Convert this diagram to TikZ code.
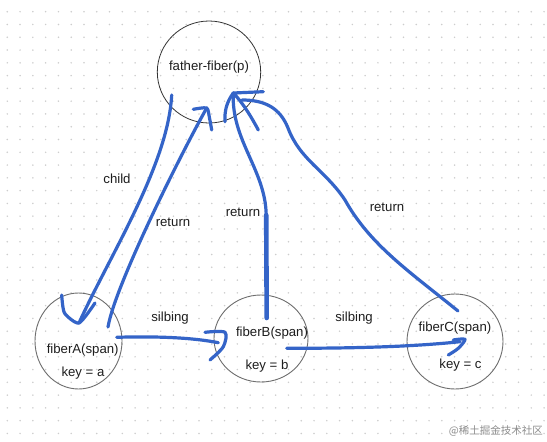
\documentclass[tikz,border=0pt]{standalone}
\usepackage{fontspec}
\setmainfont{Liberation Sans}
\newfontfamily\cjkfont{Noto Sans CJK SC}
\definecolor{inkblue}{RGB}{52,100,200}
\definecolor{txt}{RGB}{30,30,30}
\definecolor{ringgray}{RGB}{110,110,110}
\definecolor{dotgray}{RGB}{205,205,205}
\begin{document}
\begin{tikzpicture}[x=1pt,y=-1pt,
  ring/.style={draw=ringgray,line width=0.9pt},
  lbl/.style={inner sep=0pt,text=txt,font=\fontsize{13.2}{15}\selectfont},
  pen/.style={draw=inkblue,line width=3.2pt,line cap=round,line join=round},
  penthick/.style={pen,line width=4.6pt}]
\useasboundingbox (0,0) rectangle (547,442);
\fill[white] (0,0) rectangle (547,442);
% dot grid
\foreach \i in {0,...,42}{
  \foreach \j in {0,...,33}{
    \fill[dotgray] ({7.3+12.78*\i},{11.7+12.78*\j}) circle (0.85pt);
  }
}
% circles
\draw[draw=black!80,line width=0.8pt] (209,72) ellipse [x radius=51.7,y radius=51];
\node[lbl] (father) at (209,67) {father-fiber(p)};
\draw[ring] (78.5,341) ellipse [x radius=43.5,y radius=48];
\node[lbl] (fa) at (82.7,350) {fiberA(span)};
\node[lbl] (ka) at (83,373) {key = a};
\draw[ring] (261,338.5) ellipse [x radius=47,y radius=43.5];
\node[lbl] (fb) at (272,333) {fiberB(span)};
\node[lbl] (kb) at (267,366) {key = b};
\draw[ring] (455,341.5) ellipse [x radius=48,y radius=47.5];
\node[lbl] (fc) at (455,328) {fiberC(span)};
\node[lbl] (kc) at (460.5,365) {key = c};
% labels
\node[lbl] (lchild) at (117,179) {child};
\node[lbl] (lretA) at (173,222) {return};
\node[lbl] (lretB) at (243,212) {return};
\node[lbl] (lretC) at (387,207) {return};
\node[lbl] (lsibAB) at (170,318) {silbing};
\node[lbl] (lsibBC) at (354,318) {silbing};
% named ends
\coordinate (childS) at (171.7,95);
\coordinate (childT) at (79,323);
\coordinate (retAS) at (108,327);
\coordinate (retAT) at (206.7,108);
\coordinate (retBS) at (266.7,318);
\coordinate (retBT) at (233.3,93);
\coordinate (retCS) at (458,311);
\coordinate (retCT) at (242,100);
\coordinate (sibABS) at (116.7,337.3);
\coordinate (sibABT) at (225,332.3);
\coordinate (sibBCS) at (286.7,348.3);
\coordinate (sibBCT) at (465,339.3);
% child stroke
\draw[pen] (childS) .. controls (168,165) and (110,255) .. (childT);
\draw[pen] plot[smooth,tension=0.4] coordinates {(61.7,295) (64.5,313) (childT) (95,303)};
% return A
\draw[pen] (retAS) .. controls (115,285) and (183,150) .. (retAT);
\draw[pen] plot[smooth,tension=0.4] coordinates {(193.3,109.3) (retAT) (209.5,118) (211.7,130)};
% return B
\draw[penthick] (retBS) -- (266.2,215);
\draw[pen] (266.2,215) .. controls (265.5,170) and (231,140) .. (retBT);
\draw[pen] (263.3,91.7) -- (retBT) .. controls (243,103) and (252,118) .. (258.3,130);
\draw[pen] (retBT) .. controls (226,103) and (224.5,112) .. (225,121.7);
% return C
\draw[pen] (retCS) .. controls (410,272) and (370,245) .. (345,200)
  .. controls (325,170) and (300,160) .. (288,128)
  .. controls (280,108) and (265,100) .. (retCT);
% sibling A->B
\draw[pen] (sibABS) .. controls (160,336) and (195,338) .. (218.3,342.7);
\draw[pen] plot[smooth,tension=0.5] coordinates {(205,332.3) (sibABT) (223.3,346.7) (210,360)};
% sibling B->C
\draw[pen] (sibBCS) .. controls (350,348.3) and (410,347) .. (460,341.7);
\draw[pen] plot[smooth,tension=0.5] coordinates {(453.3,340) (sibBCT) (458.3,348.3) (448.3,355)};
% watermark
\node[inner sep=0pt,anchor=east,text=black!45,font=\cjkfont\fontsize{10.5}{12}\selectfont] (wm) at (543,431) {@稀土掘金技术社区};
\end{tikzpicture}
\end{document}
